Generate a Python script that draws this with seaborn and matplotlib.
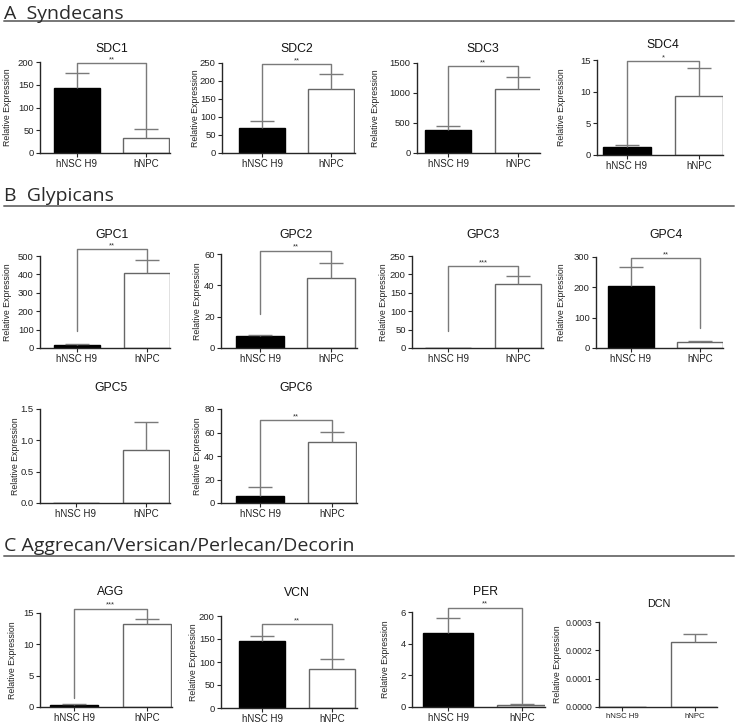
import numpy as np
import pandas as pd
import matplotlib
matplotlib.use("Agg")
import matplotlib.pyplot as plt
import seaborn as sns

# ---------------- data ----------------
groups = ["hNSC H9", "hNPC"]
genes = ["SDC1", "SDC2", "SDC3", "SDC4",
         "GPC1", "GPC2", "GPC3", "GPC4",
         "GPC5", "GPC6",
         "AGG", "VCN", "PER", "DCN"]
hnsc_mean = [142, 69, 387, 1.33, 14, 7.4, 0, 206, 0, 5.7, 0.32, 145, 4.69, 0]
hnsc_sem = [33, 21, 61, 0.31, 8, 0.9, 0, 61, 0, 7.6, 0.21, 11, 0.9, 0]
hnpc_mean = [34, 178, 1068, 9.33, 410, 44.5, 175, 19.6, 0.846, 51.9, 13.3, 85, 0.1, 0.000228]
hnpc_sem = [18, 42, 205, 4.37, 68, 9.9, 21, 4, 0.444, 8.5, 0.8, 21, 0.1, 0.000029]

ytick_labels = [
    ["0", "50", "100", "150", "200"],
    ["0", "50", "100", "150", "200", "250"],
    ["0", "500", "1000", "1500"],
    ["0", "5", "10", "15"],
    ["0", "100", "200", "300", "400", "500"],
    ["0", "20", "40", "60"],
    ["0", "50", "100", "150", "200", "250"],
    ["0", "100", "200", "300"],
    ["0.0", "0.5", "1.0", "1.5"],
    ["0", "20", "40", "60", "80"],
    ["0", "5", "10", "15"],
    ["0", "50", "100", "150", "200"],
    ["0", "2", "4", "6"],
    ["0.0000", "0.0001", "0.0002", "0.0003"],
]

# significance annotations (bracket height, left leg end, right leg end, label)
sig_label = ["**", "**", "**", "*", "**", "**", "***", "**", "", "**", "***", "**", "**", ""]
sig_height = [198, 247, 1450, 14.8, 536, 62, 223, 297, None, 70.4, 15.7, 182, 6.27, None]
sig_left_end = [175, 90, 470, 1.64, 90, 22, 45, 267, None, 13.3, 1.44, 156, 5.59, None]
sig_right_end = [52, 220, 1273, 13.7, 478, 54.4, 196, 65, None, 60.4, 14.1, 106, 0.25, None]

sections = ["A  Syndecans", "B  Glypicans", "C Aggrecan/Versican/Perlecan/Decorin"]

# ---------------- layout (pixels) ----------------
W, H = 738, 726
# x_axis_left, tick0, tick1, x_axis_right, y_top, y_bottom, title_y, ylabel_offset
layout = [
    (40, 77, 146, 170, 62, 153, 49, 33),
    (222, 262, 331, 355, 63, 153, 49, 27),
    (417, 448, 518, 540, 63, 153, 49, 41),
    (597, 627, 699, 723, 60, 155, 45, 35),
    (40, 77, 147, 170, 256, 348, 235, 33),
    (221, 260, 331, 357, 254, 348, 235, 24),
    (412, 448, 518, 543, 256, 348, 235, 29),
    (596, 631, 700, 723, 257, 348, 235, 34),
    (40, 76, 146, 170, 409, 503, 388, 25),
    (221, 260, 332, 357, 409, 503, 388, 24),
    (40, 74, 147, 172, 613, 707, 592, 27),
    (221, 262, 332, 357, 616, 708, 593, 27),
    (412, 448, 522, 545, 612, 707, 592, 27),
    (599, 622, 695, 717, 622, 707, 604, 42),
]
section_pos = [(19, 21), (201, 206), (551, 556)]  # baseline y, rule y

sns.set_style("ticks")
plt.rcParams["font.family"] = ["Liberation Sans", "DejaVu Sans"]

fig = plt.figure(figsize=(W / 100, H / 100), dpi=100)

AX_COL = "#262626"
ERR_COL = "#7a7a7a"
WHITE_EDGE = "#666666"

for i, gene in enumerate(genes):
    x0, t0, t1, x1, yt, yb, ty, yoff = layout[i]
    ax = fig.add_axes([x0 / W, 1 - yb / H, (x1 - x0) / W, (yb - yt) / H])
    df = pd.DataFrame({"group": groups, "value": [hnsc_mean[i], hnpc_mean[i]]})
    sns.barplot(data=df, x="group", y="value", hue="group",
                palette={"hNSC H9": "black", "hNPC": "white"},
                width=0.67, errorbar=None, legend=False, ax=ax,
                linewidth=1.0, edgecolor="black")
    ax.patches[0].set_edgecolor("black")
    ax.patches[1].set_edgecolor(WHITE_EDGE)
    for p in ax.patches:
        p.set_zorder(2)

    # error bars (upper only)
    s = t1 - t0
    cap = 12.0 / s
    for j, (m, e) in enumerate([(hnsc_mean[i], hnsc_sem[i]), (hnpc_mean[i], hnpc_sem[i])]):
        if e > 0:
            ax.vlines(j, m, m + e, color=ERR_COL, lw=1.0, zorder=3)
            ax.hlines(m + e, j - cap, j + cap, color=ERR_COL, lw=1.0, zorder=3)

    ticks = [float(t) for t in ytick_labels[i]]
    ax.set_ylim(0, ticks[-1])
    ax.set_yticks(ticks)
    fs_y = 6.3 if gene == "DCN" else 6.8
    ax.set_yticklabels(ytick_labels[i], fontsize=fs_y, color="#222222")
    ax.set_xlim(-(t0 - x0) / s, 1 + (x1 - t1) / s)
    ax.set_xticks([0, 1])
    ax.set_xticklabels(groups, fontsize=5.6 if gene == "DCN" else 7.0, color="#222222")
    ax.set_xlabel("")
    ax.set_ylabel("Relative Expression", fontsize=6.3, color="#222222")
    ax.yaxis.set_label_coords(-yoff / (x1 - x0), 0.5)
    ax.yaxis.label.set_verticalalignment("center")
    sns.despine(ax=ax)
    for sp in ("left", "bottom"):
        ax.spines[sp].set_color(AX_COL)
        ax.spines[sp].set_linewidth(1.0)
    ax.tick_params(axis="both", direction="out", length=3, width=0.8,
                   color=AX_COL, pad=1.5)

    # significance bracket
    if sig_height[i] is not None:
        h = sig_height[i]
        ax.plot([0, 0, 1, 1], [sig_left_end[i], h, h, sig_right_end[i]],
                color=ERR_COL, lw=1.0, clip_on=False, zorder=4)
        ax.annotate(sig_label[i], xy=(0.5, h), xytext=(0, 0),
                    textcoords="offset points", ha="center", va="bottom",
                    fontsize=5.5, color="#333333", annotation_clip=False)

    # title
    fs_t = 7.8 if gene == "DCN" else 8.8
    fig.text((t0 + t1) / 2 / W, 1 - ty / H, gene, ha="center", va="center",
             fontsize=fs_t, color="#111111")

# section headers
for (txt, (by, ly)) in zip(sections, section_pos):
    fig.text(4 / W, 1 - by / H, txt, ha="left", va="baseline",
             fontsize=14, family=["Open Sans", "DejaVu Sans"],
             color="#2a2a2a")
    fig.add_artist(plt.Line2D([4 / W, 734 / W], [1 - ly / H, 1 - ly / H],
                              color="#777777", lw=1.4))

fig.savefig("out.png", dpi=100)
